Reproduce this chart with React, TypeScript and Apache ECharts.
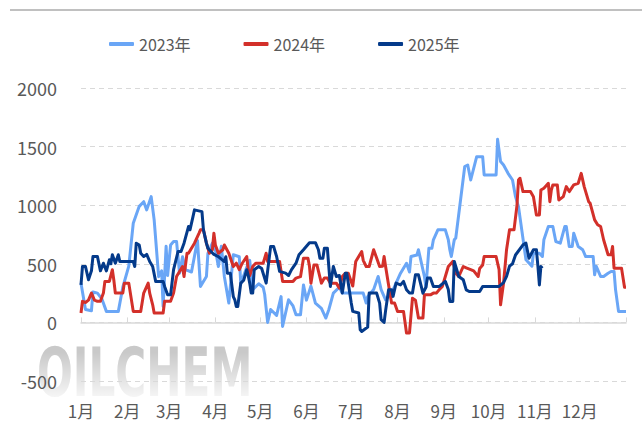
import React, { useEffect, useRef } from "react";
import * as echarts from "echarts";

// Month starts (day-of-year index) and labels
const monthStarts = [0, 31, 59, 90, 120, 151, 181, 212, 243, 273, 304, 334];
const monthLabels = ["1月", "2月", "3月", "4月", "5月", "6月", "7月", "8月", "9月", "10月", "11月", "12月"];
const yearEnd = 365;

const legendNames = ["2023年", "2024年", "2025年"];
const yTicks = { min: -500, max: 2000, interval: 500 };

// [day-of-year, value]
const s2023: [number, number][] = [
  [0, 335], [3, 110], [7, 100], [8, 260], [11, 250], [14, 200], [17, 94], [25, 94], [28, 300], [32, 480],
  [35, 846], [39, 990], [42, 1030], [44, 960], [47, 1073], [49, 875], [52, 390], [54, 440], [55, 136], [57, 650],
  [58, 400], [60, 660], [62, 690], [64, 690], [66, 420], [68, 560], [70, 450], [74, 430], [78, 700], [80, 307],
  [84, 392], [85, 590], [88, 676], [90, 620], [92, 477], [94, 650], [96, 392], [99, 165], [102, 577], [106, 560],
  [107, 330], [111, 470], [113, 530], [115, 280], [119, 330], [122, 300], [123, 240], [125, 0], [127, 110], [131, 60],
  [134, 220], [135, -34], [139, 193], [142, 140], [144, 65], [147, 65], [149, 320], [151, 190], [154, 310], [157, 165],
  [161, 120], [164, 37], [166, 110], [169, 250], [173, 300], [175, 250], [189, 250], [191, 165], [192, 220], [196, 280],
  [199, 392], [201, 280], [204, 193], [208, 250], [211, 335], [214, 420], [218, 505], [220, 430], [221, 562], [225, 575],
  [226, 620], [230, 392], [231, 300], [233, 633], [235, 633], [236, 705], [239, 790], [244, 790], [246, 705], [247, 620],
  [248, 562], [250, 705], [251, 720], [257, 1330], [259, 1343], [261, 1215], [265, 1414], [269, 1414], [270, 1258], [278, 1258],
  [279, 1562], [281, 1372], [283, 1343], [286, 1272], [289, 1215], [291, 1073], [293, 988], [298, 534], [302, 480], [303, 590],
  [307, 590], [309, 562], [310, 705], [313, 818], [316, 818], [318, 690], [321, 676], [324, 818], [325, 818], [327, 648],
  [329, 648], [330, 761], [333, 648], [336, 620], [338, 562], [343, 562], [344, 406], [345, 480], [348, 392], [350, 392],
  [353, 420], [355, 435], [357, 435], [358, 280], [360, 94], [365, 94],
];

const s2024: [number, number][] = [
  [0, 80], [1, 180], [3, 170], [5, 190], [7, 250], [9, 190], [11, 180], [13, 180], [15, 250], [16, 350],
  [19, 350], [21, 450], [22, 360], [23, 250], [28, 250], [29, 335], [32, 335], [35, 94], [40, 94], [42, 250],
  [45, 335], [46, 250], [48, 150], [49, 80], [55, 80], [56, 180], [60, 180], [62, 250], [64, 392], [68, 477],
  [69, 392], [71, 590], [72, 590], [76, 676], [79, 760], [80, 790], [82, 790], [84, 676], [86, 590], [88, 620],
  [89, 761], [90, 660], [92, 590], [95, 620], [96, 660], [99, 590], [102, 477], [104, 505], [106, 450], [108, 505],
  [111, 562], [112, 450], [113, 400], [115, 477], [117, 505], [122, 505], [124, 590], [125, 520], [133, 520], [135, 350],
  [142, 350], [144, 378], [147, 390], [149, 548], [152, 548], [153, 480], [154, 335], [156, 490], [158, 490], [161, 335],
  [163, 378], [165, 378], [167, 335], [171, 335], [173, 292], [175, 392], [177, 420], [179, 420], [182, 310], [184, 520],
  [188, 605], [189, 530], [191, 477], [193, 477], [196, 620], [198, 550], [200, 477], [202, 480], [203, 562], [204, 477],
  [206, 320], [208, 165], [210, 165], [212, 94], [216, 94], [218, -90], [220, -90], [222, 207], [224, 190], [226, 37],
  [229, 37], [230, 235], [234, 235], [236, 250], [238, 250], [240, 280], [242, 307], [244, 392], [246, 477], [249, 520],
  [251, 420], [253, 392], [256, 477], [258, 465], [261, 450], [263, 440], [266, 392], [267, 460], [269, 490], [270, 562],
  [278, 562], [280, 450], [281, 150], [283, 335], [285, 620], [286, 705], [287, 790], [290, 790], [292, 1000], [293, 1215],
  [294, 1230], [296, 1116], [301, 1116], [303, 1073], [305, 917], [307, 917], [308, 1130], [310, 1145], [313, 1187], [314, 1030],
  [315, 1130], [316, 1173], [319, 1173], [320, 1045], [323, 1073], [325, 1159], [327, 1116], [330, 1173], [333, 1187], [335, 1272],
  [337, 1159], [340, 1030], [341, 1016], [344, 875], [346, 833], [348, 818], [350, 705], [353, 577], [355, 577], [356, 648],
  [357, 463], [362, 463], [364, 300], [365, 300],
];

const s2025: [number, number][] = [
  [0, 320], [1, 477], [3, 477], [5, 364], [7, 440], [8, 562], [11, 562], [13, 440], [15, 505], [17, 440],
  [19, 534], [20, 500], [21, 577], [23, 505], [25, 577], [26, 520], [35, 520], [36, 477], [37, 676], [39, 660],
  [40, 590], [42, 562], [44, 580], [46, 520], [48, 477], [50, 350], [55, 350], [56, 307], [58, 235], [60, 235],
  [62, 450], [65, 605], [67, 605], [69, 676], [72, 818], [73, 790], [75, 903], [76, 960], [81, 945], [82, 790],
  [84, 676], [85, 633], [89, 580], [92, 562], [94, 540], [96, 520], [97, 560], [98, 420], [100, 420], [102, 220],
  [103, 193], [104, 136], [105, 136], [107, 335], [109, 360], [111, 450], [112, 400], [113, 335], [114, 250], [115, 250],
  [116, 450], [119, 477], [121, 460], [124, 335], [125, 440], [127, 648], [129, 648], [131, 562], [133, 435], [137, 420],
  [139, 400], [141, 450], [144, 505], [146, 577], [149, 620], [153, 680], [157, 680], [159, 620], [160, 548], [162, 548],
  [163, 633], [165, 633], [167, 307], [169, 477], [171, 392], [173, 400], [175, 250], [177, 420], [178, 420], [181, 165],
  [182, 94], [186, 80], [187, -63], [188, -77], [192, -40], [193, 250], [198, 250], [200, 165], [201, 23], [203, 0],
  [204, 100], [206, 278], [208, 278], [209, 222], [211, 335], [214, 320], [216, 350], [218, 278], [220, 250], [222, 250],
  [224, 406], [226, 406], [229, 250], [231, 300], [232, 378], [234, 378], [236, 307], [240, 307], [244, 350], [246, 280],
  [247, 179], [249, 179], [250, 520], [253, 392], [256, 364], [258, 278], [260, 264], [267, 264], [269, 307], [280, 307],
  [283, 340], [285, 392], [287, 480], [289, 500], [291, 575], [296, 662], [298, 676], [300, 548], [303, 620], [305, 620],
  [306, 480], [307, 320], [308, 477], [309, 463],
];

const colors = ["#6AA6F6", "#D3302A", "#043A8A"];

export default function App() {
  const ref = useRef<HTMLDivElement>(null);
  useEffect(() => {
    if (!ref.current) return;
    const chart = echarts.init(ref.current, null, { renderer: "svg" });
    const days: string[] = [];
    for (let i = 0; i <= yearEnd; i++) days.push(String(i));
    const tickSet = new Set<number>([...monthStarts, yearEnd]);
    const font = "'Noto Sans CJK SC', 'Noto Sans', sans-serif";
    const mk = (name: string, data: [number, number][], color: string, z: number) => ({
      name,
      type: "line",
      data,
      showSymbol: false,
      symbol: "none",
      z,
      lineStyle: { width: 3, color, join: "round" },
      itemStyle: { color },
    });
    chart.setOption({
      animation: false,
      backgroundColor: "#ffffff",
      color: colors,
      graphic: [
        {
          type: "rect",
          z: -1,
          shape: { x: 10, y: 9, width: 632, height: 2 },
          style: { fill: "#c0c0c0" },
        },
        {
          type: "text",
          z: -3,
          x: 37,
          y: 338,
          scaleX: 0.62,
          style: {
            text: "OILCHEM",
            font: "bold 68px 'DejaVu Sans', sans-serif",
            fill: "#c9c9c9",
          },
        },
        {
          type: "rect",
          z: -2,
          shape: { x: 30, y: 352, width: 235, height: 52 },
          style: {
            fill: new echarts.graphic.LinearGradient(0, 0, 0, 1, [
              { offset: 0, color: "rgba(255,255,255,0)" },
              { offset: 1, color: "rgba(255,255,255,0.95)" },
            ]),
          },
        },
      ],
      legend: {
        data: legendNames,
        left: 104,
        top: 31,
        itemWidth: 25,
        itemHeight: 4,
        itemGap: 53,
        icon: "roundRect",
        textStyle: { fontSize: 16, color: "#595959", fontFamily: font },
      },
      grid: { left: 81, right: 16, top: 88, bottom: 43, containLabel: false },
      xAxis: {
        type: "category",
        data: days,
        boundaryGap: false,
        axisLine: { show: true, lineStyle: { color: "#d9d9d9", width: 1.5 } },
        axisTick: {
          show: true,
          inside: true,
          length: 5,
          interval: (idx: number) => tickSet.has(idx),
          lineStyle: { color: "#d9d9d9" },
        },
        axisLabel: {
          interval: (idx: number) => monthStarts.includes(idx),
          formatter: (_v: string, idx: number) => {
            const k = monthStarts.indexOf(idx);
            return k >= 0 ? monthLabels[k] : "";
          },
          color: "#595959",
          fontSize: 17,
          fontFamily: font,
          margin: 21,
        },
        splitLine: { show: false },
      },
      yAxis: {
        type: "value",
        min: yTicks.min,
        max: yTicks.max,
        interval: yTicks.interval,
        axisLine: { show: false },
        axisTick: { show: false },
        axisLabel: {
          color: "#595959",
          fontSize: 18,
          fontFamily: font,
          margin: 24,
          formatter: (v: number) => String(v),
        },
        splitLine: { show: true, lineStyle: { color: "#d9d9d9", type: [5, 4], width: 1 } },
      },
      series: [
        mk(legendNames[0], s2023, colors[0], 3),
        mk(legendNames[1], s2024, colors[1], 4),
        mk(legendNames[2], s2025, colors[2], 5),
      ],
    });
    return () => chart.dispose();
  }, []);
  return (
    <div
      ref={ref}
      style={{ position: "fixed", left: 0, top: 0, width: 642, height: 424, background: "#fff" }}
    />
  );
}
